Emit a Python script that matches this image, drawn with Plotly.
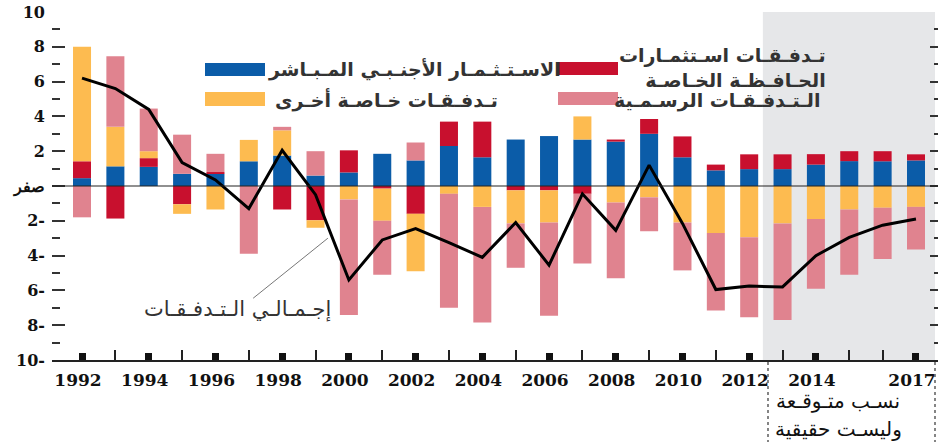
import plotly.graph_objects as go

years = list(range(1992, 2018))
fdi = [0.45, 1.13, 1.1, 0.7, 0.7, 1.42, 1.75, 0.6, 0.78, 1.85, 1.47, 2.3, 1.65,
       2.67, 2.87, 2.67, 2.55, 3.0, 1.65, 0.9, 0.97, 0.97, 1.23, 1.43, 1.42, 1.47]
portfolio = [0.97, -1.87, 0.5, -1.05, 0.1, 0.0, -1.35, -1.97, 1.27, -0.15, -1.6, 1.4, 2.05,
             -0.25, -0.25, -0.45, 0.12, 0.85, 1.2, 0.33, 0.85, 0.85, 0.6, 0.57, 0.58, 0.35]
other_private = [6.58, 2.27, 0.4, -0.55, -1.35, 1.23, 1.45, -0.43, -0.77, -1.85, -3.3, -0.45, -1.2,
                 -1.9, -1.85, 1.33, -0.95, -0.65, -2.1, -2.7, -2.95, -2.15, -1.9, -1.35, -1.25, -1.2]
official = [-1.8, 4.05, 2.45, 2.25, 1.05, -3.9, 0.2, 1.4, -6.65, -3.1, 1.03, -6.55, -6.65,
            -2.55, -5.35, -4.0, -4.35, -1.95, -2.75, -4.45, -4.6, -5.55, -4.0, -3.75, -2.95, -2.45]
total = [6.2, 5.6, 4.4, 1.35, 0.35, -1.3, 2.05, -0.5, -5.4, -3.1, -2.45, -3.25, -4.1,
         -2.1, -4.55, -0.45, -2.55, 1.2, -2.15, -5.95, -5.75, -5.8, -4.0, -2.95, -2.25, -1.9]

x_label_years = [1992, 1994, 1996, 1998, 2000, 2002, 2004, 2006, 2008, 2010, 2012, 2014, 2017]
x_minor_years = [y for y in years if y not in x_label_years]
y_tick_vals = [-10, -8, -6, -4, -2, 0, 2, 4, 6, 8, 10]
y_tick_text = ["10-", "8-", "6-", "4-", "2-", "صفر", "2", "4", "6", "8", "10"]
y_minor_vals = [-9, -7, -5, -3, -1, 1, 3, 5, 7, 9]

forecast_start = 2012.41

names = {
    "fdi": "الاسـتـثـمـار الأجنـبـي المـبـاشر",
    "portfolio": "تـدفـقـات اسـتثمـارات<br>الحـافـظـة الخـاصـة",
    "other": "تـدفـقـات خـاصـة أخـرى",
    "official": "الـتـدفـقـات الرسـمـية",
    "total": "إجـمـالـي الـتـدفـقـات",
}
forecast_note = ["نسـب متـوقـعة", "وليسـت حقيقية"]
colors = {"fdi": "#0B5CA8", "portfolio": "#C8102E", "other": "#FDBB50", "official": "#E0838F"}

W, H = 939, 444
L, R, T, B = 52, 1, 12, 84
PW, PH = W - L - R, H - T - B


def px(p):
    return (p - L) / PW


def py(p):
    return (H - B - p) / PH


fig = go.Figure()
for key, vals in [("fdi", fdi), ("portfolio", portfolio), ("other", other_private), ("official", official)]:
    fig.add_trace(go.Bar(x=years, y=vals, name=names[key], marker=dict(color=colors[key], line=dict(width=0)),
                         width=0.54, showlegend=False))
fig.add_trace(go.Scatter(x=years, y=total, mode="lines", line=dict(color="black", width=3),
                         name="إجمالي التدفقات", showlegend=False))
fig.add_trace(go.Scatter(x=[years[0]], y=[0], yaxis="y2", mode="markers", marker=dict(opacity=0),
                         showlegend=False, hoverinfo="skip"))

shapes = []
shapes.append(dict(type="rect", xref="x", yref="y", x0=forecast_start, x1=2017.57, y0=-10, y1=10.15,
                   fillcolor="#E6E7E9", line=dict(width=0), layer="below"))
shapes.append(dict(type="line", xref="paper", yref="y", x0=0, x1=1, y0=0, y1=0,
                   line=dict(color="#222", width=1.2), layer="above"))
shapes.append(dict(type="line", xref="x", yref="y", x0=1997.13, y0=-6.45, x1=1999.37, y1=-3.0,
                   line=dict(color="#777", width=1)))
for (x0, x1, y0, y1, c) in [(205, 265, 63, 76, colors["fdi"]), (205, 265, 92, 106, colors["other"]),
                            (558, 618, 62, 75, colors["portfolio"]), (558, 618, 92, 105, colors["official"])]:
    shapes.append(dict(type="rect", xref="paper", yref="paper", x0=px(x0), x1=px(x1), y0=py(y1), y1=py(y0),
                       fillcolor=c, line=dict(width=0)))
for xx in [768, 935]:
    shapes.append(dict(type="line", xref="paper", yref="paper", x0=px(xx), x1=px(xx), y0=py(362), y1=py(442),
                       line=dict(color="#444", width=1.3, dash="dot")))

leg_font = dict(family="DejaVu Sans", size=19, color="#333", weight="bold")
annotations = [
    dict(xref="paper", yref="paper", x=px(266), y=py(70), text=names["fdi"], showarrow=False,
         xanchor="left", yanchor="middle", font=leg_font),
    dict(xref="paper", yref="paper", x=px(500), y=py(100), text=names["other"], showarrow=False,
         xanchor="right", yanchor="middle", font=leg_font),
    dict(xref="paper", yref="paper", x=px(828), y=py(67), text=names["portfolio"], showarrow=False,
         xanchor="right", yanchor="middle", align="right", font=leg_font),
    dict(xref="paper", yref="paper", x=px(822), y=py(100), text=names["official"], showarrow=False,
         xanchor="right", yanchor="middle", font=leg_font),
    dict(xref="x", yref="y", x=1996.65, y=-7.1, text=names["total"], showarrow=False,
         xanchor="center", yanchor="middle", font=dict(family="DejaVu Sans", size=21, color="#333")),
    dict(xref="paper", yref="paper", x=px(838), y=py(401), text=forecast_note[0], showarrow=False,
         xanchor="center", yanchor="middle", font=dict(family="DejaVu Sans", size=20, color="#111")),
    dict(xref="paper", yref="paper", x=px(838), y=py(429), text=forecast_note[1], showarrow=False,
         xanchor="center", yanchor="middle", font=dict(family="DejaVu Sans", size=20, color="#111")),
]

xtick_font = dict(family="DejaVu Serif", size=17, color="#111", weight="bold")
ytick_font = dict(family="DejaVu Serif", size=16, color="#111", weight="bold")

fig.update_layout(
    width=W, height=H,
    margin=dict(l=L, r=R, t=T, b=B),
    paper_bgcolor="white", plot_bgcolor="white",
    barmode="relative", bargap=0.46,
    shapes=shapes, annotations=annotations,
    xaxis=dict(range=[1991.1, 2017.66], tickmode="array", tickvals=x_label_years,
               ticktext=[str(v) for v in x_label_years],
               ticks="inside", ticklen=7, tickwidth=7, tickcolor="#111",
               showline=True, linecolor="#222", linewidth=1.5, showgrid=False, zeroline=False,
               tickfont=xtick_font, ticklabelshift=-4, ticklabelstandoff=4,
               minor=dict(tickmode="array", tickvals=x_minor_years, ticks="inside", ticklen=10,
                          tickwidth=1.5, tickcolor="#222", showgrid=False)),
    yaxis=dict(range=[-10, 10], tickmode="array", tickvals=y_tick_vals, ticktext=y_tick_text,
               ticks="inside", ticklen=13, tickwidth=2, tickcolor="#333",
               showline=False, showgrid=False, zeroline=False,
               tickfont=ytick_font, ticklabelstandoff=6,
               minor=dict(tickmode="array", tickvals=y_minor_vals, ticks="inside", ticklen=8,
                          tickwidth=2, tickcolor="#333", showgrid=False)),
    yaxis2=dict(range=[-10, 10], overlaying="y", side="right", tickmode="array", tickvals=y_tick_vals,
                ticks="inside", ticklen=8, tickwidth=2, tickcolor="#333", showticklabels=False,
                showline=False, showgrid=False, zeroline=False,
                minor=dict(tickmode="array", tickvals=y_minor_vals, ticks="inside", ticklen=4,
                           tickwidth=2, tickcolor="#333", showgrid=False)),
)

fig.write_html("out.html", config={"displayModeBar": False},
               post_script="document.body.style.margin='0';document.body.style.overflow='hidden';")
